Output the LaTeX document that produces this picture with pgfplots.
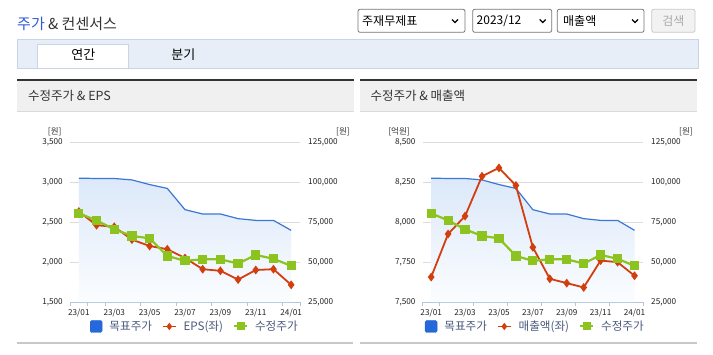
\documentclass[border=0pt]{standalone}
\usepackage{pgfplots}
\pgfplotsset{compat=1.18}
\usepackage{fontspec}
\setmainfont{Noto Sans CJK KR}
\definecolor{titleblue}{HTML}{2E5BD6}
\definecolor{dark}{HTML}{333333}
\definecolor{ddborder}{HTML}{767676}
\definecolor{btnborder}{HTML}{C8C8C8}
\definecolor{btnfill}{HTML}{F2F2F2}
\definecolor{btntext}{HTML}{AAAAAA}
\definecolor{tabbg}{HTML}{E8EEF8}
\definecolor{tabborder}{HTML}{C9D4E6}
\definecolor{hdrbg}{HTML}{F0F0F0}
\definecolor{hdrline}{HTML}{333333}
\definecolor{hdrbot}{HTML}{DADADA}
\definecolor{botline}{HTML}{C8C8C8}
\definecolor{gridc}{HTML}{DCDCDC}
\definecolor{axisc}{HTML}{B4C6DC}
\definecolor{tickc}{HTML}{222222}
\definecolor{bluel}{HTML}{3B78D6}
\definecolor{filltop}{HTML}{DCE8F9}
\definecolor{fillbot}{HTML}{FBFDFF}
\definecolor{redl}{HTML}{D23E0E}
\definecolor{greenl}{HTML}{8CC31E}
\definecolor{legc}{HTML}{4B5A7D}
\definecolor{legblue}{HTML}{2468D9}
\newcommand\tickfont{\fontsize{8.2}{9}\selectfont}
\newcommand\legfont{\fontsize{11.6}{13}\selectfont}

\pgfplotstableread{
x target price eps sales
0  102400 80400 2630 7656
1  102200 76000 2460 7925
2  102200 70400 2440 8037
3  101300 66300 2280 8286
4  98400  64800 2200 8338
5  96000  53800 2160 8228
6  82700  50700 2050 7842
7  80000  51700 1910 7645
8  80000  51700 1890 7618
9  77100  49000 1780 7591
10 76000  54400 1900 7759
11 76000  52000 1910 7749
12 69800  47600 1715 7664
}\datatable

\pgfplotsset{
  chartbase/.style={scale only axis, height=160pt, xmin=-0.5, xmax=12.5,
    /pgf/number format/assume math mode=true, scaled y ticks=false},
  legsq/.style={legend image code/.code={\fill[legblue, rounded corners=1.5pt] (0pt,-6pt) rectangle (12pt,6pt);}},
  legline/.style={legend image code/.code={\draw[mark repeat=2, mark phase=2, ##1] plot coordinates {(0pt,0pt) (6.5pt,0pt) (13pt,0pt)};}},
  rightaxis/.style={chartbase,
    ymin=25000, ymax=125000, ytick={25000,50000,75000,100000,125000},
    ymajorgrids, grid style={draw=gridc, line width=0.8pt},
    axis x line*=bottom, axis y line*=right,
    x axis line style={draw=axisc, line width=0.8pt},
    y axis line style={draw=none},
    xtick={0,2,...,12}, xticklabels={23/01,23/03,23/05,23/07,23/09,23/11,24/01},
    major tick length=0pt, minor tick length=4pt, tick align=outside,
    minor tick style={draw=axisc, line width=0.8pt},
    xticklabel style={font=\tickfont, text=tickc, inner sep=0pt, anchor=north, yshift=-7pt},
    yticklabel style={font=\tickfont, text=tickc, inner sep=0pt, anchor=west, xshift=8pt,
      /pgf/number format/fixed, /pgf/number format/precision=0, /pgf/number format/1000 sep={,}},
    legend columns=3, legend cell align=left,
    legend style={draw=none, fill=none, inner sep=0pt, outer sep=0pt, font=\legfont,
      /tikz/every odd column/.append style={column sep=5pt},
      /tikz/every even column/.append style={column sep=8pt}},
  },
  leftaxis/.style={chartbase,
    axis x line=none, axis y line*=left, y axis line style={draw=none},
    major tick length=0pt,
    yticklabel style={font=\tickfont, text=tickc, inner sep=0pt, anchor=east, xshift=-7pt,
      /pgf/number format/fixed, /pgf/number format/precision=0, /pgf/number format/1000 sep={,}},
  },
  hideaxis/.style={chartbase, hide axis, ymin=25000, ymax=125000},
  areast/.style={draw=none, top color=filltop, bottom color=fillbot, forget plot},
  bluest/.style={bluel, line width=1.2pt, forget plot},
  redst/.style={redl, line width=1.8pt, mark=diamond*, mark size=3pt, mark options={fill=redl, draw=redl, solid}},
  greenst/.style={greenl, line width=2.2pt, mark=square*, mark size=3.5pt, mark options={fill=greenl, draw=greenl, solid}},
}

\begin{document}
\begin{tikzpicture}
\path[fill=white, use as bounding box] (0pt,0pt) rectangle (713pt,354pt);
\begin{scope}[x=1pt,y=1pt]
% title
\node[anchor=west, inner sep=0pt, font=\fontsize{15}{17}\selectfont] at (17,330) {\textcolor{titleblue}{주가} \textcolor{dark}{\& 컨센서스}};
% dropdowns
\draw[ddborder, rounded corners=2pt, line width=0.8pt] (358,321.7) rectangle (465,344.7);
\node[anchor=west, inner sep=0pt, font=\fontsize{12}{14}\selectfont, text=black] at (362,333) {주재무제표};
\draw[black, line width=1.3pt] (452,334.5) -- (455,331.5) -- (458,334.5);
\draw[ddborder, rounded corners=2pt, line width=0.8pt] (472.7,321.7) rectangle (551.7,344.7);
\node[anchor=west, inner sep=0pt, font=\fontsize{12}{14}\selectfont, text=black] at (476.5,333) {2023/12};
\draw[black, line width=1.3pt] (539.7,334.5) -- (542.7,331.5) -- (545.7,334.5);
\draw[ddborder, rounded corners=2pt, line width=0.8pt] (557.3,321.7) rectangle (644,344.7);
\node[anchor=west, inner sep=0pt, font=\fontsize{12}{14}\selectfont, text=black] at (563,333) {매출액};
\draw[black, line width=1.3pt] (632,334.5) -- (635,331.5) -- (638,334.5);
\draw[draw=btnborder, fill=btnfill, rounded corners=2pt, line width=0.8pt] (651.7,321.7) rectangle (695,344.7);
\node[inner sep=0pt, font=\fontsize{12}{14}\selectfont, text=btntext] at (673.3,333) {검색};
% tab bar
\draw[fill=tabbg, draw=tabborder, line width=0.8pt] (17,285.7) rectangle (698,314.7);
\fill[white] (37.3,286.1) rectangle (128.3,310);
\draw[tabborder, line width=0.8pt] (37.3,286.1) -- (37.3,310) -- (128.3,310) -- (128.3,286.1);
\node[inner sep=0pt, font=\fontsize{13}{15}\selectfont, text=black] at (83.3,299) {연간};
\node[inner sep=0pt, font=\fontsize{13}{15}\selectfont, text=black] at (183.3,299) {분기};
% panel headers
\fill[hdrbg] (17,243) rectangle (354,273);
\draw[hdrline, line width=2pt] (17,274) -- (354,274);
\draw[hdrbot, line width=0.8pt] (17,243) -- (354,243);
\node[anchor=west, inner sep=0pt, font=\fontsize{12.5}{14}\selectfont, text=dark] at (28,258) {수정주가 \& EPS};
\fill[hdrbg] (360,243) rectangle (696.5,273);
\draw[hdrline, line width=2pt] (360,274) -- (696.5,274);
\draw[hdrbot, line width=0.8pt] (360,243) -- (696.5,243);
\node[anchor=west, inner sep=0pt, font=\fontsize{12.5}{14}\selectfont, text=dark] at (370.3,258) {수정주가 \& 매출액};
% bottom lines
\draw[botline, line width=2.7pt] (17,11) -- (353,11);
\draw[botline, line width=2.7pt] (360,11) -- (696.7,11);
% unit labels
\node[inner sep=0pt, font=\fontsize{8.5}{10}\selectfont, text=dark] at (54.7,221.8) {[원]};
\node[inner sep=0pt, font=\fontsize{8.5}{10}\selectfont, text=dark] at (343,221.8) {[원]};
\node[inner sep=0pt, font=\fontsize{8.5}{10}\selectfont, text=dark] at (399,221.8) {[억원]};
\node[inner sep=0pt, font=\fontsize{8.5}{10}\selectfont, text=dark] at (686,221.8) {[원]};
\end{scope}

% ===== left chart =====
\begin{axis}[rightaxis, width=230pt, at={(70pt,52pt)}, anchor=south west,
  minor xtick={-0.5,0.5,1.5,3.5,5.5,7.5,9.5,11.5,12.5},
  legend style={at={(0.087,-0.153)}, anchor=west}]
\addplot[areast] table[x=x, y=target] {\datatable} \closedcycle;
\addplot[bluest] table[x=x, y=target] {\datatable};
\addlegendimage{legsq}
\addlegendentry{\textcolor{legc}{목표주가}}
\addlegendimage{legline, redl, line width=1.5pt, mark=diamond*, mark size=2.5pt, mark options={fill=redl, draw=redl}}
\addlegendentry{\textcolor{legc}{EPS(좌)}}
\addlegendimage{legline, greenl, line width=2pt, mark=square*, mark size=3pt, mark options={fill=greenl, draw=greenl}}
\addlegendentry{\textcolor{legc}{수정주가}}
\end{axis}
\begin{axis}[leftaxis, width=230pt, at={(70pt,52pt)}, anchor=south west,
  ymin=1500, ymax=3500, ytick={1500,2000,2500,3000,3500}]
\addplot[redst] table[x=x, y=eps] {\datatable};
\end{axis}
\begin{axis}[hideaxis, width=230pt, at={(70pt,52pt)}, anchor=south west]
\addplot[greenst] table[x=x, y=price] {\datatable};
\end{axis}

% ===== right chart =====
\begin{axis}[rightaxis, width=220.3pt, at={(422.7pt,52pt)}, anchor=south west,
  minor xtick={-0.5,0.5,2.5,4.5,6.5,8.5,10.5,12.5},
  legend style={at={(0.0104,-0.153)}, anchor=west}]
\addplot[areast] table[x=x, y=target] {\datatable} \closedcycle;
\addplot[bluest] table[x=x, y=target] {\datatable};
\addlegendimage{legsq}
\addlegendentry{\textcolor{legc}{목표주가}}
\addlegendimage{legline, redl, line width=1.5pt, mark=diamond*, mark size=2.5pt, mark options={fill=redl, draw=redl}}
\addlegendentry{\textcolor{legc}{매출액(좌)}}
\addlegendimage{legline, greenl, line width=2pt, mark=square*, mark size=3pt, mark options={fill=greenl, draw=greenl}}
\addlegendentry{\textcolor{legc}{수정주가}}
\end{axis}
\begin{axis}[leftaxis, width=220.3pt, at={(422.7pt,52pt)}, anchor=south west,
  ymin=7500, ymax=8500, ytick={7500,7750,8000,8250,8500}]
\addplot[redst] table[x=x, y=sales] {\datatable};
\end{axis}
\begin{axis}[hideaxis, width=220.3pt, at={(422.7pt,52pt)}, anchor=south west]
\addplot[greenst] table[x=x, y=price] {\datatable};
\end{axis}
\end{tikzpicture}
\end{document}
